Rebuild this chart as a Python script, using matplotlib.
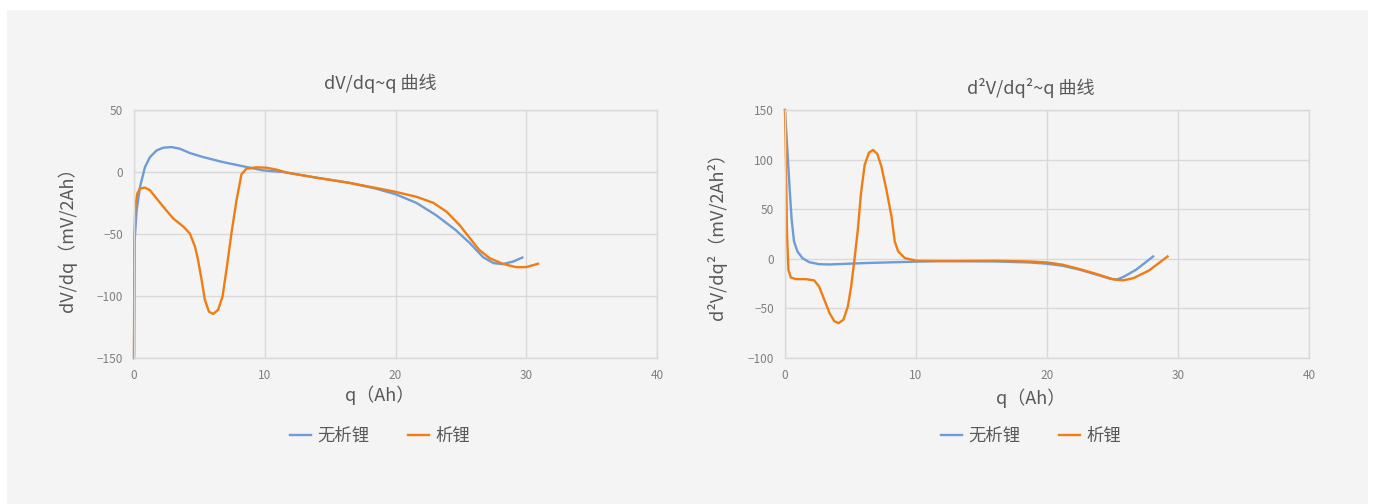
import matplotlib
matplotlib.use('Agg')
import matplotlib.pyplot as plt
from matplotlib.lines import Line2D

plt.rcParams['font.family'] = ['Noto Sans CJK SC', 'DejaVu Sans']

# dV/dq ~ q
q1_a = [0.0, 0.05, 0.2, 0.46, 0.84, 1.22, 1.73, 2.24, 2.87, 3.5, 4.27, 5.3, 6.8, 8.35, 9.87,
        11.4, 13.9, 16.5, 18.5, 20.0, 21.6, 23.1, 24.6, 25.7, 26.7, 27.5, 28.2, 29.0, 29.7]
dv_a = [-150, -55, -31, -12, 4, 12, 17.4, 19.6, 20.1, 18.8, 15.3, 12, 8, 4.6, 1.3,
        0, -4.5, -8.8, -13.4, -17.9, -24.9, -34.8, -46.8, -57.5, -68.7, -73.5, -74.3, -72.2, -69]
q1_b = [0.0, 0.03, 0.1, 0.25, 0.46, 0.84, 1.22, 1.73, 2.24, 3.0, 3.77, 4.27, 4.66, 4.9, 5.17,
        5.42, 5.73, 6.06, 6.44, 6.77, 7.07, 7.45, 7.84, 8.22, 8.6, 9.36, 10.1, 10.9, 11.7,
        13.9, 16.5, 19.0, 20.0, 21.6, 22.9, 23.9, 24.9, 25.7, 26.4, 27.2, 28.2, 29.2, 30.0, 30.9]
dv_b = [-150, -49.6, -28, -17.4, -13.4, -12.6, -14.7, -21.4, -28, -37.5, -44, -49.6, -60, -71,
        -87, -103, -112.6, -114.5, -111, -100.5, -79, -49.6, -22.8, -1.9, 2.7, 3.75, 3.5, 1.9,
        -0.5, -4.5, -8.8, -13.9, -16, -20, -24.9, -32, -42.8, -53.5, -62.8, -69.5, -74, -76.7,
        -76.7, -74]

# d2V/dq2 ~ q
q2_a = [0.0, 0.18, 0.36, 0.51, 0.69, 0.95, 1.33, 1.85, 2.6, 3.4, 5.9, 8.5, 11.8, 16.1, 18.7,
        20.0, 21.2, 22.5, 23.8, 24.8, 25.3, 25.8, 26.8, 28.1]
d2_a = [150, 109.7, 69.5, 39, 17.4, 7.4, 0.7, -3.4, -5.4, -5.7, -4.4, -3.4, -2.3, -2.7, -3.7,
        -5, -7, -11, -16, -20, -21, -18.5, -11, 2.3]
q2_b = [0.0, 0.08, 0.15, 0.26, 0.44, 0.82, 1.6, 2.23, 2.6, 3.0, 3.4, 3.77, 4.1, 4.46, 4.8,
        5.05, 5.3, 5.56, 5.8, 6.08, 6.41, 6.72, 7.05, 7.36, 7.74, 8.13, 8.38, 8.64, 9.15, 10.05,
        11.8, 16.1, 18.7, 20.0, 21.2, 22.5, 23.8, 25.0, 25.8, 26.6, 27.8, 29.2]
d2_b = [150, 93, 25.8, -11, -18.8, -20.5, -20.5, -21.8, -27.9, -41.3, -54.7, -63, -64.8, -61.4,
        -48, -27.9, -1, 29.2, 66, 94.6, 107, 109.7, 105.7, 93, 69.5, 42.6, 17.4, 7.4, 0.7, -2,
        -2.3, -2, -2.7, -3.7, -6, -10.4, -15.4, -20.5, -21.8, -19.5, -11.7, 2.3]

names = ['无析锂', '析锂']
c_blue = '#6F9BD8'
c_orange = '#F07D14'
grid_c = '#D9D9D9'
txt_c = '#595959'
tick_c = '#7F7F7F'
bg = '#F4F4F4'

fig = plt.figure(figsize=(13.75, 5.04), dpi=100)
fig.patch.set_facecolor('white')
fig.patches.append(plt.Rectangle((7/1375, 0), 1361/1375, 494/504, transform=fig.transFigure,
                                 facecolor=bg, edgecolor='none', zorder=-10))

def setup(ax, ylim, yticks):
    ax.set_facecolor(bg)
    ax.set_xlim(0, 40)
    ax.set_ylim(*ylim)
    ax.set_xticks([0, 10, 20, 30, 40])
    ax.set_yticks(yticks)
    ax.grid(True, color=grid_c, linewidth=1)
    ax.set_axisbelow(True)
    for s in ax.spines.values():
        s.set_color(grid_c)
        s.set_linewidth(1)
    ax.tick_params(length=0, colors=tick_c, labelsize=8.5, pad=8)

ax1 = fig.add_axes([134/1375, 1-358/504, 523/1375, 248/504])
setup(ax1, (-150, 50), [-150, -100, -50, 0, 50])
ax1.plot(q1_a, dv_a, color=c_blue, lw=1.7, solid_joinstyle='round', clip_on=False)
ax1.plot(q1_b, dv_b, color=c_orange, lw=1.7, solid_joinstyle='round', clip_on=False)

ax2 = fig.add_axes([785/1375, 1-358/504, 524/1375, 248/504])
setup(ax2, (-100, 150), [-100, -50, 0, 50, 100, 150])
ax2.plot(q2_a, d2_a, color=c_blue, lw=1.7, solid_joinstyle='round', clip_on=False)
ax2.plot(q2_b, d2_b, color=c_orange, lw=1.7, solid_joinstyle='round', clip_on=False)

# titles, axis labels
fig.text(380/1375, 1-83/504, 'dV/dq~q 曲线', ha='center', va='center', fontsize=13, color=txt_c)
fig.text(1031/1375, 1-88/504, 'd²V/dq²~q 曲线', ha='center', va='center', fontsize=13, color=txt_c)
fig.text(380/1375, 1-395/504, 'q（Ah）', ha='center', va='center', fontsize=13, color=txt_c)
fig.text(1031/1375, 1-398/504, 'q（Ah）', ha='center', va='center', fontsize=13, color=txt_c)
fig.text(67/1375, 1-235/504, 'dV/dq（mV/2Ah）', ha='center', va='center', rotation=90,
         fontsize=13, color=txt_c)
fig.text(717/1375, 1-232/504, 'd²V/dq²（mV/2Ah²）', ha='center', va='center', rotation=90,
         fontsize=13, color=txt_c)

handles = [Line2D([], [], color=c_blue, lw=1.7), Line2D([], [], color=c_orange, lw=1.7)]
for cx in (380, 1031):
    fig.legend(handles, names, loc='center', bbox_to_anchor=(cx/1375, 1-436/504), ncol=2,
               frameon=False, fontsize=12.5, labelcolor=txt_c, handlelength=1.2,
               handletextpad=0.4, columnspacing=2.2)

fig.savefig('out.png', dpi=100)
